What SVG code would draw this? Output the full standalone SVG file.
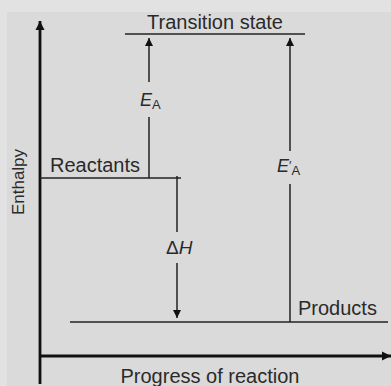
<svg xmlns="http://www.w3.org/2000/svg" width="391" height="386" viewBox="0 0 391 386">
<style>
.t{font-family:"Liberation Sans",Arial,sans-serif;fill:#2a2a2a}
.ln{stroke:#222;stroke-width:1.5;fill:none}
.ax{stroke:#111;stroke-width:2.8;fill:none}
</style>
<defs>
<marker id="ah" viewBox="0 0 8 10" refX="8" refY="5" markerWidth="8" markerHeight="10" markerUnits="userSpaceOnUse" orient="auto">
<path d="M0,1 L8,5 L0,9 Z" fill="#111"/>
</marker>
<marker id="ahx" viewBox="0 0 9 10" refX="9" refY="5" markerWidth="9" markerHeight="10" markerUnits="userSpaceOnUse" orient="auto">
<path d="M0,0.5 L9,5 L0,9.5 Z" fill="#111"/>
</marker>
</defs>
<rect width="391" height="386" fill="#e2e2e2"/>
<rect x="7" y="12" width="384" height="374" fill="#dadada"/>
<g id="axes">
<line class="ax" x1="40" y1="384" x2="40" y2="21" marker-end="url(#ahx)"/>
<line class="ax" x1="39" y1="356" x2="391" y2="356" marker-end="url(#ahx)"/>
<text class="t" x="210" y="383" font-size="20" text-anchor="middle">Progress of reaction</text>
<text class="t" x="24" y="182" font-size="17" text-anchor="middle" transform="rotate(-90 24 182)">Enthalpy</text>
</g>
<g id="transition">
<line class="ln" x1="125" y1="34" x2="305" y2="34"/>
<text class="t" x="215" y="29" font-size="20" text-anchor="middle">Transition state</text>
</g>
<g id="reactants">
<line class="ln" x1="40" y1="178" x2="181" y2="178"/>
<text class="t" x="50" y="172" font-size="20">Reactants</text>
</g>
<g id="products">
<line class="ln" x1="70" y1="322" x2="388" y2="322"/>
<text class="t" x="298" y="315" font-size="20">Products</text>
</g>
<g id="connectors">
<line class="ln" x1="149" y1="178" x2="149" y2="117"/>
<line class="ln" x1="149" y1="82" x2="149" y2="38" marker-end="url(#ah)"/>
<line class="ln" x1="290" y1="322" x2="290" y2="184"/>
<line class="ln" x1="290" y1="151" x2="290" y2="38" marker-end="url(#ah)"/>
<line class="ln" x1="177" y1="176" x2="177" y2="232"/>
<line class="ln" x1="177" y1="263" x2="177" y2="318" marker-end="url(#ah)"/>
</g>
<g id="labels">
<text class="t" x="140" y="106" font-size="18" font-style="italic">E<tspan font-size="13" font-style="normal" dy="3">A</tspan></text>
<text class="t" x="277" y="172" font-size="18" font-style="italic">E<tspan font-size="13" font-style="normal" dy="-2">′</tspan><tspan font-size="13" font-style="normal" dy="5">A</tspan></text>
<text class="t" x="166" y="254" font-size="19">Δ<tspan font-style="italic">H</tspan></text>
</g>
</svg>
